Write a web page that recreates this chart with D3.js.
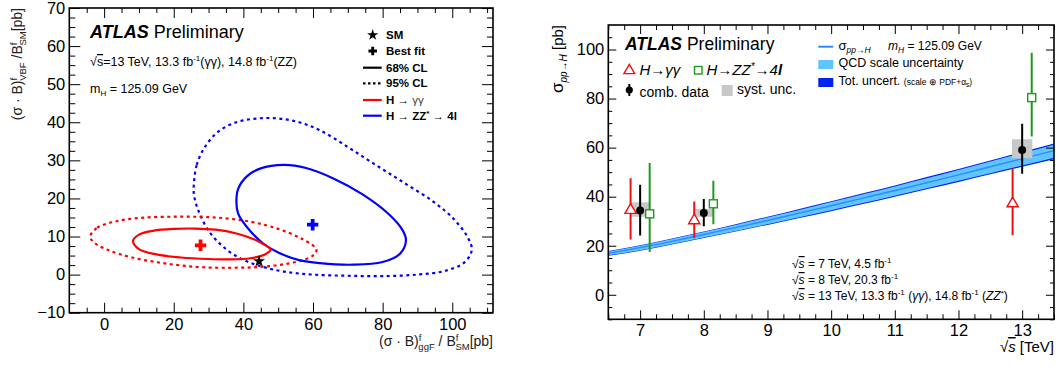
<!DOCTYPE html>
<html><head><meta charset="utf-8">
<script src="https://cdn.jsdelivr.net/npm/d3@7"></script>
<style>body{margin:0;background:#fff}svg{display:block}text{font-family:"Liberation Sans",Arial,Helvetica,sans-serif}</style>
</head><body><svg id="c" width="1059" height="370"></svg>
<script>
// ---------------- LEFT PANEL DATA ----------------
const leftXTicks = [0, 20, 40, 60, 80, 100];
const leftYTicks = [-10, 0, 10, 20, 30, 40, 50, 60, 70];
// contours: [ggF, VBF]
const contourGG68 = [[8.3,8.8],[10,10.5],[14,11.5],[20,12.0],[26,12.1],[32,11.8],[38,10.8],[43,9.3],[46.5,7.6],[47.8,6.6],[46,5.2],[42,4.3],[36,4.0],[30,4.1],[22,4.5],[15,5.3],[10,6.7]];
const contourGG95 = [[-4,10],[-2,12.3],[4,14.1],[12,15.0],[22,15.2],[32,15.0],[42,13.9],[50,12.0],[57,9.3],[61,6.6],[60,5.0],[55,3.3],[46,2.1],[37,1.8],[27,2.0],[17,3.0],[8,4.5],[1,6.5],[-3,8.5]];
const contourZZ68 = [[38,19],[38.5,22.5],[41,25.8],[45,27.9],[51.6,28.8],[58,28.0],[66,25.2],[74,21.2],[81,16.5],[85.5,12],[86.7,9],[85,5.5],[80,3.3],[71.6,2.6],[62,3.0],[56,3.8],[50,5.8],[45.5,8.3],[41,12.5],[38.5,16]];
const contourZZ95 = [[25.8,24],[26.6,28.8],[28.8,33.3],[32.6,37.4],[38,40],[44,41],[50,41],[56,40],[62,37.9],[70,33.5],[78,28.8],[86,24.2],[94,19.5],[100,15],[104.3,10],[105.6,6.5],[103.5,3.2],[98,1.0],[90,0.0],[80,-0.4],[70,-0.3],[60,0.0],[51.6,0.8],[45,2.2],[39,4.3],[34,7.5],[30,11.5],[27,17],[25.8,21]];
const bestFitGG = [27.7, 7.7];
const bestFitZZ = [59.9, 13.1];
const smPoint = [44.5, 3.5];

// ---------------- RIGHT PANEL DATA ----------------
const rightXTicks = [7, 8, 9, 10, 11, 12, 13];
const rightYTicks = [0, 20, 40, 60, 80, 100];
const energies = [7, 8, 13];
const ggVal = [34.5, 30.3, 37.2];
const ggLo  = [22.5, 23.1, 24.3];
const ggHi  = [47.5, 38.0, 51.5];
const zzVal = [33.0, 37.1, 80.4];
const zzLo  = [17.4, 28.8, 64.5];
const zzHi  = [53.7, 46.5, 98.7];
const combVal = [34.4, 33.3, 59.0];
const combLo  = [24.2, 27.9, 49.3];
const combHi  = [44.9, 39.1, 69.7];
const combSystLo = [31.8, 31.8, 55.6];
const combSystHi = [37.7, 35.0, 63.4];
const thSqrtS = [6.5, 7, 7.5, 8, 8.5, 9, 9.5, 10, 10.5, 11, 11.5, 12, 12.5, 13, 13.5];
const thSigma = [16.9, 19.2, 21.8, 24.6, 27.4, 30.3, 33.3, 36.3, 39.4, 42.5, 45.7, 48.9, 52.2, 55.5, 58.8];
const thQcdLo = [16.1, 18.2, 20.7, 23.4, 26.0, 28.8, 31.6, 34.5, 37.4, 40.4, 43.4, 46.5, 49.6, 52.7, 55.9];
const thQcdHi = [17.6, 20.0, 22.7, 25.6, 28.5, 31.5, 34.6, 37.8, 41.0, 44.2, 47.5, 50.9, 54.3, 57.7, 61.2];
const thTotLo = [15.9, 18.0, 20.5, 23.1, 25.8, 28.5, 31.3, 34.1, 37.0, 40.0, 43.0, 46.0, 49.1, 52.2, 55.3];
const thTotHi = [17.8, 20.2, 22.9, 25.8, 28.8, 31.8, 35.0, 38.1, 41.4, 44.6, 48.0, 51.3, 54.8, 58.3, 61.7];

// ---------------- HELPERS ----------------
const FONT = '"Liberation Sans", Arial, Helvetica, sans-serif';
const svg = d3.select("#c");

function addText(parent, x, y, parts, attrs = {}) {
  const t = parent.append("text").attr("x", x).attr("y", y);
  for (const [k, v] of Object.entries(attrs)) t.attr(k, v);
  let shift = 0;
  parts.forEach(p => {
    const s = t.append("tspan").text(p.t);
    const target = p.sh || 0;
    const dy = target - shift; shift = target;
    if (dy) s.attr("dy", dy);
    if (p.dx) s.attr("dx", p.dx);
    if (p.fs) s.attr("font-size", p.fs);
    if (p.it) s.attr("font-style", "italic");
    if (p.b) s.attr("font-weight", p.b);
    if (p.fill) s.attr("fill", p.fill);
    if (p.ol) s.style("text-decoration", "overline");
  });
  return t;
}

function frameAxes(g, x, y, o) {
  const [x0, x1] = x.range(), [y0, y1] = y.range();
  const fmt = d3.format("");
  const style = sel => { sel.select(".domain").remove(); sel.selectAll("line").attr("stroke", "#000").attr("stroke-width", 1); sel.attr("font-family", FONT).attr("font-size", o.fs); sel.selectAll("text").attr("fill", "#000"); };
  g.append("g").attr("transform", `translate(0,${y0})`)
    .call(d3.axisBottom(x).tickValues(o.xMajor).tickSize(-o.xMaj).tickPadding(o.xPad).tickFormat(fmt)).call(style);
  g.append("g").attr("transform", `translate(0,${y0})`)
    .call(d3.axisBottom(x).tickValues(o.xMinor).tickSize(-o.xMin).tickFormat("")).call(style);
  g.append("g").attr("transform", `translate(0,${y1})`)
    .call(d3.axisTop(x).tickValues(o.xMajor).tickSize(-o.xMaj).tickFormat("")).call(style);
  g.append("g").attr("transform", `translate(0,${y1})`)
    .call(d3.axisTop(x).tickValues(o.xMinor).tickSize(-o.xMin).tickFormat("")).call(style);
  g.append("g").attr("transform", `translate(${x0},0)`)
    .call(d3.axisLeft(y).tickValues(o.yMajor).tickSize(-o.yMaj).tickPadding(o.yPad).tickFormat(fmt)).call(style);
  g.append("g").attr("transform", `translate(${x0},0)`)
    .call(d3.axisLeft(y).tickValues(o.yMinor).tickSize(-o.yMin).tickFormat("")).call(style);
  g.append("g").attr("transform", `translate(${x1},0)`)
    .call(d3.axisRight(y).tickValues(o.yMajor).tickSize(-o.yMaj).tickFormat("")).call(style);
  g.append("g").attr("transform", `translate(${x1},0)`)
    .call(d3.axisRight(y).tickValues(o.yMinor).tickSize(-o.yMin).tickFormat("")).call(style);
  g.append("rect").attr("x", x0).attr("y", y1).attr("width", x1 - x0).attr("height", y0 - y1)
    .attr("fill", "none").attr("stroke", "#000").attr("stroke-width", 1.6);
}

// ================= LEFT PANEL =================
const xL = d3.scaleLinear([-10, 111.7], [69.3, 493]);
const yL = d3.scaleLinear([-10, 70], [312.7, 8]);
const gL = svg.append("g");

svg.append("clipPath").attr("id", "clipL").append("rect")
  .attr("x", 69.3).attr("y", 8).attr("width", 493 - 69.3).attr("height", 312.7 - 8);
const contourLine = d3.line().x(d => xL(d[0])).y(d => yL(d[1])).curve(d3.curveCatmullRomClosed.alpha(0.5));
const contours = [
  { d: contourZZ95, c: "#0000ff", dash: "3,3.5" },
  { d: contourGG95, c: "#ff0000", dash: "3,3.5" },
  { d: contourZZ68, c: "#0000ff", dash: null },
  { d: contourGG68, c: "#ff0000", dash: null }
];
const gc = gL.append("g").attr("clip-path", "url(#clipL)");
contours.forEach(k => {
  gc.append("path").attr("d", contourLine(k.d)).attr("fill", "none").attr("stroke", k.c)
    .attr("stroke-width", 2.2).attr("stroke-dasharray", k.dash);
});
const cross = d3.symbol(d3.symbolCross, 72);
gL.append("path").attr("d", cross()).attr("transform", `translate(${xL(bestFitGG[0])},${yL(bestFitGG[1])})`).attr("fill", "#ff0000");
gL.append("path").attr("d", cross()).attr("transform", `translate(${xL(bestFitZZ[0])},${yL(bestFitZZ[1])})`).attr("fill", "#0000ff");
gL.append("path").attr("d", d3.symbol(d3.symbolStar, 45)()).attr("transform", `translate(${xL(smPoint[0])},${yL(smPoint[1])})`).attr("fill", "#000");

frameAxes(gL, xL, yL, {
  xMajor: leftXTicks, xMinor: d3.range(-5, 112, 5).filter(v => v % 20 !== 0), xMaj: 10, xMin: 5, xPad: 6,
  yMajor: leftYTicks, yMinor: d3.range(-7.5, 70, 2.5).filter(v => v % 10 !== 0), yMaj: 11, yMin: 6, yPad: 4, fs: 16.5
});

addText(gL, 90, 37.7, [{ t: "ATLAS", it: true, b: "bold" }, { t: " Preliminary" }], { "font-size": 18 });
addText(gL, 90, 66, [{ t: "√" }, { t: "s", ol: true }, { t: "=13 TeV, 13.3 fb" }, { t: "-1", fs: 8, sh: -5 }, { t: "(γγ), 14.8 fb" }, { t: "-1", fs: 8, sh: -5 }, { t: "(ZZ)" }], { "font-size": 12.5 });
addText(gL, 90, 92.5, [{ t: "m" }, { t: "H", fs: 8, sh: 3 }, { t: " = 125.09 GeV" }], { "font-size": 12.5 });

// legend
const lgx = 386;
gL.append("path").attr("d", d3.symbol(d3.symbolStar, 40)()).attr("transform", `translate(372.7,35)`).attr("fill", "#000");
gL.append("path").attr("d", d3.symbol(d3.symbolCross, 40)()).attr("transform", `translate(372.7,51)`).attr("fill", "#000");
const legLines = [
  { y: 67.7, c: "#000", dash: null }, { y: 83.3, c: "#000", dash: "2.5,2.5" },
  { y: 100, c: "#ff0000", dash: null }, { y: 115.7, c: "#0000ff", dash: null }
];
legLines.forEach(l => gL.append("line").attr("x1", 363).attr("x2", 381.7).attr("y1", l.y).attr("y2", l.y)
  .attr("stroke", l.c).attr("stroke-width", 2.2).attr("stroke-dasharray", l.dash));
const lgAttr = { "font-size": 11.5, "font-weight": "bold" };
addText(gL, lgx, 39, [{ t: "SM" }], lgAttr);
addText(gL, lgx, 55, [{ t: "Best fit" }], lgAttr);
addText(gL, lgx, 71.7, [{ t: "68% CL" }], lgAttr);
addText(gL, lgx, 87.3, [{ t: "95% CL" }], lgAttr);
addText(gL, lgx, 104, [{ t: "H  →  " }, { t: "γγ", b: "normal", fill: "#444" }], lgAttr);
addText(gL, lgx, 119.7, [{ t: "H  → ZZ" }, { t: "*", fs: 8, sh: -4 }, { t: "  → 4l" }], lgAttr);

// axis titles
addText(gL, 493, 346, [{ t: "(σ · B)" }, { t: "f", fs: 9.5, sh: -5 }, { t: "ggF", fs: 9.5, sh: 4, dx: -3 }, { t: " / B" }, { t: "f", fs: 9.5, sh: -5 }, { t: "SM", fs: 9.5, sh: 4, dx: -3 }, { t: "[pb]" }], { "font-size": 14, "text-anchor": "end", fill: "#222" });
addText(gL, 0, 0, [{ t: "(σ · B)" }, { t: "f", fs: 9.5, sh: -5 }, { t: "VBF", fs: 9.5, sh: 4, dx: -3 }, { t: " /B" }, { t: "f", fs: 9.5, sh: -5 }, { t: "SM", fs: 9.5, sh: 4, dx: -3 }, { t: "[pb]" }], { "font-size": 14, "text-anchor": "end", fill: "#222", transform: "translate(22,8) rotate(-90)" });

// ================= RIGHT PANEL =================
const xR = d3.scaleLinear([6.5, 13.5], [608.3, 1054]);
const yR = d3.scaleLinear([-10, 110], [319.3, 25]);
const gR = svg.append("g");
svg.append("clipPath").attr("id", "clipR").append("rect")
  .attr("x", 608.3).attr("y", 25).attr("width", 1054 - 608.3).attr("height", 319.3 - 25);
const gb = gR.append("g").attr("clip-path", "url(#clipR)");
const th = thSqrtS.map((s, i) => ({ s, v: thSigma[i], ql: thQcdLo[i], qh: thQcdHi[i], tl: thTotLo[i], tt: thTotHi[i] }));
gb.append("path").datum(th).attr("d", d3.area().x(d => xR(d.s)).y0(d => yR(d.tl)).y1(d => yR(d.tt)).curve(d3.curveMonotoneX)).attr("fill", "#0022ee");
gb.append("path").datum(th).attr("d", d3.area().x(d => xR(d.s)).y0(d => yR(d.ql)).y1(d => yR(d.qh)).curve(d3.curveMonotoneX)).attr("fill", "#5fc4ff");
gb.append("path").datum(th).attr("d", d3.line().x(d => xR(d.s)).y(d => yR(d.v)).curve(d3.curveMonotoneX)).attr("fill", "none").attr("stroke", "#2a8cff").attr("stroke-width", 1.4);

const off = 0.15, boxHalf = 0.16;
const gPts = gb.append("g");
energies.forEach((e, i) => {
  gPts.append("rect").attr("x", xR(e - boxHalf)).attr("width", xR(e + boxHalf) - xR(e - boxHalf))
    .attr("y", yR(combSystHi[i])).attr("height", yR(combSystLo[i]) - yR(combSystHi[i])).attr("fill", "#c8c8c8");
});
energies.forEach((e, i) => {
  gPts.append("line").attr("x1", xR(e - off)).attr("x2", xR(e - off)).attr("y1", yR(ggLo[i])).attr("y2", yR(ggHi[i])).attr("stroke", "#ee1111").attr("stroke-width", 2);
  gPts.append("path").attr("d", d3.symbol(d3.symbolTriangle, 55)()).attr("transform", `translate(${xR(e - off)},${yR(ggVal[i])})`)
    .attr("fill", "#fff").attr("stroke", "#ee1111").attr("stroke-width", 1.4);
  gPts.append("line").attr("x1", xR(e + off)).attr("x2", xR(e + off)).attr("y1", yR(zzLo[i])).attr("y2", yR(zzHi[i])).attr("stroke", "#1f9a1f").attr("stroke-width", 2);
  gPts.append("rect").attr("x", xR(e + off) - 4).attr("y", yR(zzVal[i]) - 4).attr("width", 8).attr("height", 8)
    .attr("fill", "#fff").attr("stroke", "#1f9a1f").attr("stroke-width", 1.4);
  gPts.append("line").attr("x1", xR(e)).attr("x2", xR(e)).attr("y1", yR(combLo[i])).attr("y2", yR(combHi[i])).attr("stroke", "#000").attr("stroke-width", 2);
  gPts.append("circle").attr("cx", xR(e)).attr("cy", yR(combVal[i])).attr("r", 4).attr("fill", "#000");
});

frameAxes(gR, xR, yR, {
  xMajor: rightXTicks, xMinor: d3.range(6.5, 13.51, 0.25).filter(v => v % 1 !== 0), xMaj: 9, xMin: 5, xPad: 5,
  yMajor: rightYTicks, yMinor: d3.range(-10, 110, 5).filter(v => v % 20 !== 0), yMaj: 8, yMin: 4, yPad: 4, fs: 16.5
});

addText(gR, 625, 49.5, [{ t: "ATLAS", it: true, b: "bold" }, { t: " Preliminary" }], { "font-size": 17.5 });
gR.append("path").attr("d", d3.symbol(d3.symbolTriangle, 50)()).attr("transform", "translate(629.3,70.5)").attr("fill", "#fff").attr("stroke", "#ee1111").attr("stroke-width", 1.4);
addText(gR, 639.5, 75, [{ t: "H→γγ", it: true }], { "font-size": 15 });
gR.append("rect").attr("x", 694.5).attr("y", 66.5).attr("width", 7.5).attr("height", 7.5).attr("fill", "#fff").attr("stroke", "#1f9a1f").attr("stroke-width", 1.4);
addText(gR, 706.5, 75, [{ t: "H→ZZ", it: true }, { t: "*", fs: 10, sh: -5 }, { t: "→4" }, { t: "l", b: "bold", it: true }], { "font-size": 15, "font-style": "italic" });
gR.append("line").attr("x1", 629.3).attr("x2", 629.3).attr("y1", 84).attr("y2", 96).attr("stroke", "#000").attr("stroke-width", 2);
gR.append("circle").attr("cx", 629.3).attr("cy", 90).attr("r", 3.6).attr("fill", "#000");
addText(gR, 639.5, 96.5, [{ t: "comb. data" }], { "font-size": 14 });
gR.append("rect").attr("x", 721.7).attr("y", 85).attr("width", 11).attr("height", 11).attr("fill", "#c8c8c8");
addText(gR, 737, 93.5, [{ t: "syst. unc." }], { "font-size": 14 });
gR.append("line").attr("x1", 818.3).attr("x2", 833.3).attr("y1", 46.7).attr("y2", 46.7).attr("stroke", "#2a8cff").attr("stroke-width", 2);
addText(gR, 838.5, 49.5, [{ t: "σ", fs: 13 }, { t: "pp→H", fs: 8.5, it: true, sh: 3.5 }], { "font-size": 12 });
addText(gR, 888, 49.5, [{ t: "m", it: true }, { t: "H", fs: 8.5, it: true, sh: 3 }, { t: " = 125.09 GeV" }], { "font-size": 12 });
gR.append("rect").attr("x", 818.3).attr("y", 60).attr("width", 15).attr("height", 9).attr("fill", "#5fc4ff");
addText(gR, 838.5, 67, [{ t: "QCD scale uncertainty" }], { "font-size": 12.5 });
gR.append("rect").attr("x", 818.3).attr("y", 78).attr("width", 15).attr("height", 9).attr("fill", "#0022ee");
addText(gR, 838.5, 85, [{ t: "Tot. uncert. " }, { t: "(scale ⊕ PDF+α", fs: 8.5 }, { t: "s", fs: 6.5, sh: 2 }, { t: ")", fs: 8.5, sh: 0 }], { "font-size": 12.5 });

const brAttr = { "font-size": 12 };
addText(gR, 792, 268, [{ t: "√" }, { t: "s", it: true, ol: true }, { t: " = 7 TeV,  4.5 fb" }, { t: "-1", fs: 8, sh: -5 }], brAttr);
addText(gR, 792, 284, [{ t: "√" }, { t: "s", it: true, ol: true }, { t: " = 8 TeV,  20.3 fb" }, { t: "-1", fs: 8, sh: -5 }], brAttr);
addText(gR, 792, 300, [{ t: "√" }, { t: "s", it: true, ol: true }, { t: " = 13 TeV, 13.3 fb" }, { t: "-1", fs: 8, sh: -5 }, { t: " (" }, { t: "γγ", it: true }, { t: "), 14.8 fb" }, { t: "-1", fs: 8, sh: -5 }, { t: " (" }, { t: "ZZ", it: true }, { t: "*", fs: 8, sh: -4 }, { t: ")" }], brAttr);

addText(gR, 1054, 352, [{ t: "√" }, { t: "s", it: true, ol: true }, { t: " [TeV]" }], { "font-size": 15, "text-anchor": "end" });
addText(gR, 0, 0, [{ t: "σ", fs: 17 }, { t: "pp→H", fs: 10, it: true, sh: 4 }, { t: " [pb]" }], { "font-size": 15, "text-anchor": "end", transform: "translate(563,25) rotate(-90)" });
</script></body></html>
